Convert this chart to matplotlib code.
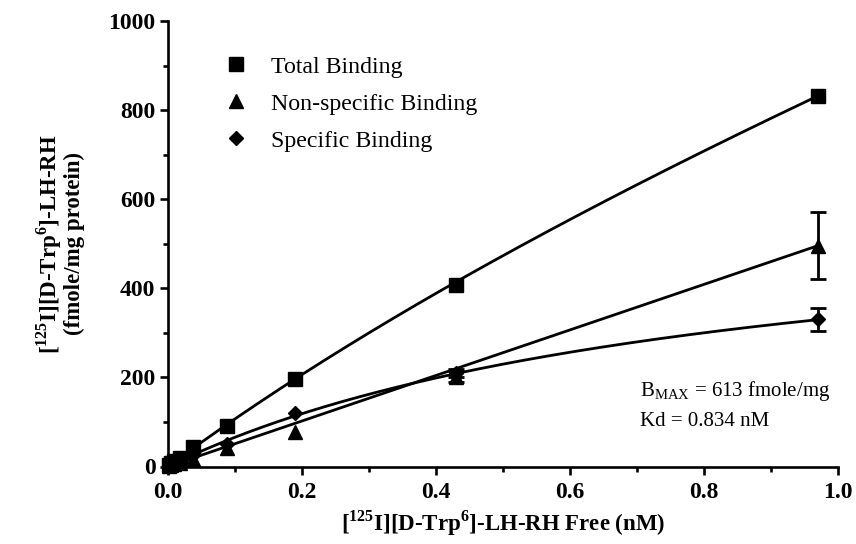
import numpy as np
import matplotlib
matplotlib.use("Agg")
import matplotlib.pyplot as plt
from matplotlib.ticker import FixedLocator

plt.rcParams['font.family'] = ['Liberation Serif', 'DejaVu Serif']
plt.rcParams['mathtext.fontset'] = 'custom'
plt.rcParams['mathtext.rm'] = 'Liberation Serif'
plt.rcParams['mathtext.bf'] = 'Liberation Serif:bold'

# Data
free_nM = [0.002, 0.005, 0.009, 0.018, 0.038, 0.088, 0.19, 0.43, 0.97]
total_binding = [3, 7, 12, 20, 43, 92, 197, 408, 832]
nonspecific_binding = [1, 3, 5, 8, 17, 42, 78, 202, 496]
specific_binding = [2, 4, 7, 12, 26, 50, 121, 210, 330]
nonspecific_err = [0, 0, 0, 0, 0, 0, 0, 12, 75]
specific_err = [0, 0, 0, 0, 0, 0, 0, 8, 26]

x_ticks = [0.0, 0.2, 0.4, 0.6, 0.8, 1.0]
x_tick_labels = ['0.0', '0.2', '0.4', '0.6', '0.8', '1.0']
x_minor = [0.1, 0.3, 0.5, 0.7, 0.9]
y_ticks = [0, 200, 400, 600, 800, 1000]
y_tick_labels = ['0', '200', '400', '600', '800', '1000']
y_minor = [100, 300, 500, 700, 900]

# Fit parameters
bmax = 613
kd = 0.834
ns_slope = 511
total_bmax = 797
total_kd = 1.33

fig = plt.figure(figsize=(8.56, 5.44), dpi=100)
ax = fig.add_axes([168/856, (544-466.5)/544, (838-168)/856, (466.5-21)/544])

xf = np.linspace(0, max(free_nM), 300)
lw = 2.0
ax.plot(xf, total_bmax*xf/(total_kd+xf) + ns_slope*xf, color='black', lw=lw)
ax.plot(xf, ns_slope*xf, color='black', lw=lw)
ax.plot(xf, bmax*xf/(kd+xf), color='black', lw=lw)

x = np.array(free_nM)
ax.plot(x, total_binding, 's', color='black', ms=9.5, label='Total Binding', clip_on=False, zorder=5)
ax.plot(x, nonspecific_binding, '^', color='black', ms=10, label='Non-specific Binding', clip_on=False, zorder=5)
ax.plot(x, specific_binding, 'D', color='black', ms=7.5, label='Specific Binding', clip_on=False, zorder=5)

ns_e = np.array(nonspecific_err); sp_e = np.array(specific_err)
m = ns_e > 0
ax.errorbar(x[m], np.array(nonspecific_binding)[m], yerr=ns_e[m], fmt='none', ecolor='black',
            elinewidth=lw, capsize=6, capthick=lw)
m = sp_e > 0
ax.errorbar(x[m], np.array(specific_binding)[m], yerr=sp_e[m], fmt='none', ecolor='black',
            elinewidth=lw, capsize=6, capthick=lw)

ax.set_xlim(0, 1.0)
ax.set_ylim(0, 1000)
for s in ['top', 'right']:
    ax.spines[s].set_visible(False)
for s in ['left', 'bottom']:
    ax.spines[s].set_linewidth(1.9)
ax.set_xticks(x_ticks)
ax.set_xticklabels(x_tick_labels, fontweight='bold')
ax.xaxis.set_minor_locator(FixedLocator(x_minor))
ax.set_yticks(y_ticks)
ax.set_yticklabels(y_tick_labels, fontweight='bold')
ax.yaxis.set_minor_locator(FixedLocator(y_minor))
ax.tick_params(which='major', direction='out', length=6, width=1.9, labelsize=17, pad=3)
ax.tick_params(axis='x', which='major', pad=5)
ax.tick_params(which='minor', direction='out', length=3.5, width=1.9)

ax.set_xlabel(r'[$^{\mathbf{125}}$I][D-Trp$^{\mathbf{6}}$]-LH-RH Free (nM)', fontsize=16.5, fontweight='bold', labelpad=4)
ax.set_ylabel('[$^{\\mathbf{125}}$I][D-Trp$^{\\mathbf{6}}$]-LH-RH\n(fmole/mg protein)', fontsize=16.5,
              fontweight='bold', labelpad=17, linespacing=1.0)

leg = ax.legend(loc='upper left', bbox_to_anchor=(0.052, 0.97), frameon=False, fontsize=17.2,
                handlelength=1.0, handletextpad=0.95, labelspacing=0.64, numpoints=1)

ax.text(0.704, 0.17, r'B$_{\mathrm{MAX}}$ = 613 fmole/mg', transform=ax.transAxes, fontsize=15, ha='left', va='center')
ax.text(0.704, 0.10, 'Kd = 0.834 nM', transform=ax.transAxes, fontsize=15, ha='left', va='center')

fig.savefig('out.png', dpi=100)
